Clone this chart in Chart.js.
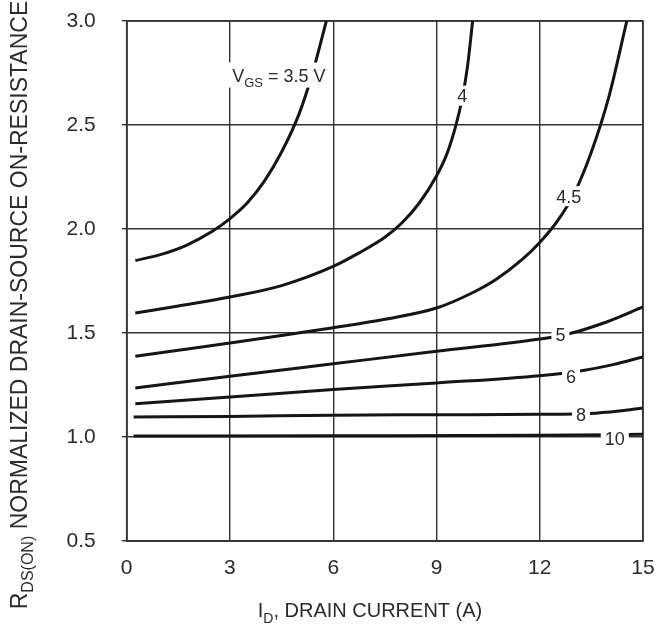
<!DOCTYPE html>
<html>
<head>
<meta charset="utf-8">
<script src="https://cdn.jsdelivr.net/npm/chart.js@4.4.0/dist/chart.umd.min.js"></script>
<style>
  html, body { margin: 0; padding: 0; background: #fff; }
  #wrap { width: 670px; height: 637px; }
</style>
</head>
<body>
<div id="wrap"><canvas id="c" width="670" height="637"></canvas></div>
<script>
// ---- data ----
const xTicks = [0, 3, 6, 9, 12, 15];
const yTicks = [0.5, 1.0, 1.5, 2.0, 2.5, 3.0];

const vgsNames = ['3.5', '4', '4.5', '5', '6', '8', '10'];

const v35X = [0.25, 1.0, 1.75, 2.5, 3.0, 3.5, 4.0, 4.5, 5.0, 5.4, 5.8];
const v35Y = [1.848, 1.878, 1.923, 1.99, 2.05, 2.125, 2.23, 2.37, 2.55, 2.75, 3.0];

const v4X = [0.25, 1.5, 3, 4.5, 6, 6.75, 7.5, 8.0, 8.5, 9.0, 9.3, 9.55, 9.75, 9.9, 10.05];
const v4Y = [1.596, 1.63, 1.673, 1.728, 1.82, 1.885, 1.96, 2.03, 2.125, 2.255, 2.36, 2.49, 2.63, 2.78, 3.0];

const v45X = [0.25, 1.5, 3, 4.5, 6, 7.5, 9, 10, 10.75, 11.5, 12, 12.5, 13, 13.5, 14, 14.53];
const v45Y = [1.388, 1.417, 1.452, 1.488, 1.525, 1.566, 1.62, 1.69, 1.76, 1.855, 1.935, 2.035, 2.17, 2.37, 2.63, 3.0];

const v5X = [0.25, 3, 6, 9, 12, 12.82, 13.94, 15];
const v5Y = [1.236, 1.292, 1.352, 1.412, 1.471, 1.495, 1.553, 1.625];

const v6X = [0.25, 3, 6, 9, 12, 13.26, 14.13, 15];
const v6Y = [1.16, 1.192, 1.228, 1.26, 1.295, 1.32, 1.348, 1.385];

const v8X = [0.2, 3, 6, 9, 12, 13.45, 14.3, 15];
const v8Y = [1.096, 1.099, 1.105, 1.107, 1.109, 1.113, 1.125, 1.14];

const v10X = [0.2, 6, 12, 15];
const v10Y = [1.005, 1.006, 1.008, 1.013];

const seriesX = [v35X, v4X, v45X, v5X, v6X, v8X, v10X];
const seriesY = [v35Y, v4Y, v45Y, v5Y, v6Y, v8Y, v10Y];

// curve labels (anchor in data units)
const curveLabels = [
  { parts: [{ t: 'V' }, { t: 'GS', sub: true }, { t: ' = 3.5 V' }], x: 4.42, y: 2.74 },
  { parts: [{ t: '4' }], x: 9.75, y: 2.641 },
  { parts: [{ t: '4.5' }], x: 12.84, y: 2.158 },
  { parts: [{ t: '5' }], x: 12.6, y: 1.492 },
  { parts: [{ t: '6' }], x: 12.91, y: 1.293 },
  { parts: [{ t: '8' }], x: 13.2, y: 1.11 },
  { parts: [{ t: '10' }], x: 14.18, y: 0.993 }
];

// ---- drawing ----
const FONT = '"Liberation Sans", Arial, Helvetica, sans-serif';
const TEXT_COLOR = '#2b2b2b';

function fontStr(size) { return size + 'px ' + FONT; }

function measureParts(ctx, parts, size) {
  let w = 0;
  parts.forEach(p => {
    ctx.font = fontStr(p.sub ? Math.round(size * 0.7) : size);
    w += ctx.measureText(p.t).width;
  });
  return w;
}

function drawParts(ctx, parts, x0, baseline, size) {
  let x = x0;
  ctx.textBaseline = 'alphabetic';
  ctx.textAlign = 'left';
  parts.forEach(p => {
    const s = p.sub ? Math.round(size * 0.7) : size;
    ctx.font = fontStr(s);
    ctx.fillText(p.t, x, baseline + (p.sub ? size * 0.28 : 0));
    x += ctx.measureText(p.t).width;
  });
}

const labelPlugin = {
  id: 'curveLabels',
  afterDatasetsDraw(chart) {
    const ctx = chart.ctx;
    const xs = chart.scales.x, ys = chart.scales.y;
    const size = 18;
    ctx.save();
    curveLabels.forEach(l => {
      const cx = xs.getPixelForValue(l.x);
      const cy = ys.getPixelForValue(l.y);
      const w = measureParts(ctx, l.parts, size);
      const hasSub = l.parts.some(p => p.sub);
      const h = hasSub ? 25 : 20;
      ctx.fillStyle = '#fff';
      ctx.fillRect(cx - w / 2 - 4, cy - h / 2, w + 8, h);
      ctx.fillStyle = TEXT_COLOR;
      drawParts(ctx, l.parts, cx - w / 2, cy + size * 0.36, size);
    });
    ctx.restore();
  },
  afterDraw(chart) {
    const ctx = chart.ctx;
    ctx.save();
    ctx.fillStyle = TEXT_COLOR;
    // x-axis title
    const xs = 20;
    const xParts = [{ t: 'I' }, { t: 'D', sub: true }, { t: ', DRAIN CURRENT (A)' }];
    const xw = measureParts(ctx, xParts, xs);
    drawParts(ctx, xParts, 370 - xw / 2, 617, xs);
    // y-axis title
    const ysz = 23;
    const yParts = [{ t: 'R' }, { t: 'DS(ON)', sub: true }, { t: ' NORMALIZED DRAIN-SOURCE ON-RESISTANCE' }];
    const yw = measureParts(ctx, yParts, ysz);
    ctx.translate(27, 305);
    ctx.rotate(-Math.PI / 2);
    drawParts(ctx, yParts, -yw / 2, 0, ysz);
    ctx.restore();
  }
};

const datasets = seriesX.map((xsArr, i) => ({
  label: 'VGS = ' + vgsNames[i] + ' V',
  data: xsArr.map((x, j) => ({ x: x, y: seriesY[i][j] })),
  borderColor: '#151515',
  borderWidth: 3,
  pointRadius: 0,
  showLine: true,
  fill: false,
  cubicInterpolationMode: 'monotone'
}));

new Chart(document.getElementById('c'), {
  type: 'scatter',
  data: { datasets: datasets },
  options: {
    responsive: false,
    animation: false,
    devicePixelRatio: 1,
    layout: { padding: { left: 0, right: 27, top: 21, bottom: 0 } },
    plugins: { legend: { display: false }, tooltip: { enabled: false }, title: { display: false } },
    scales: {
      x: {
        type: 'linear',
        min: xTicks[0],
        max: xTicks[xTicks.length - 1],
        afterBuildTicks(scale) { scale.ticks = xTicks.map(v => ({ value: v })); },
        afterFit(scale) { scale.height = 96; scale.paddingLeft = 0; scale.paddingRight = 0; },
        ticks: { color: TEXT_COLOR, font: { family: FONT, size: 21 }, padding: 15, maxRotation: 0 },
        grid: { color: '#333', lineWidth: 1.4, drawTicks: false },
        border: { color: '#333', width: 1.6 }
      },
      y: {
        type: 'linear',
        min: yTicks[0],
        max: yTicks[yTicks.length - 1],
        afterBuildTicks(scale) { scale.ticks = yTicks.map(v => ({ value: v })); },
        afterFit(scale) { scale.width = 126.7; scale.paddingTop = 0; scale.paddingBottom = 0; },
        ticks: { color: TEXT_COLOR, font: { family: FONT, size: 21 }, padding: 26, callback: v => Number(v).toFixed(1) },
        grid: { color: '#333', lineWidth: 1.4, tickLength: 5 },
        border: { color: '#333', width: 1.6 }
      }
    }
  },
  plugins: [labelPlugin, {
    id: 'frame',
    beforeDatasetsDraw(chart) {
      const { left, right, top, bottom } = chart.chartArea;
      const ctx = chart.ctx;
      ctx.save();
      ctx.strokeStyle = '#333';
      ctx.lineWidth = 1.6;
      ctx.strokeRect(left, top, right - left, bottom - top);
      ctx.restore();
    }
  }]
});
</script>
</body>
</html>
